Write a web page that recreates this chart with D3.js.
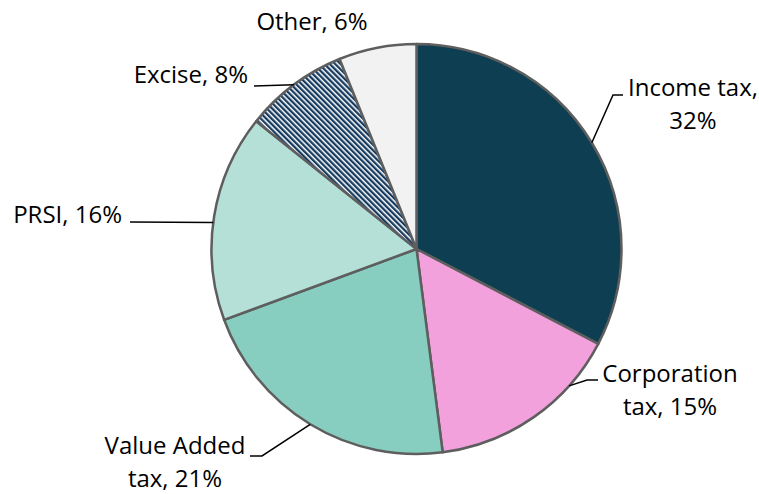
<!DOCTYPE html>
<html>
<head>
<meta charset="utf-8">
<script src="https://cdn.jsdelivr.net/npm/d3@7/dist/d3.min.js"></script>
<style>
  html, body { margin: 0; padding: 0; background: #ffffff; }
  svg { display: block; }
  text { font-family: "Open Sans", "Noto Sans", sans-serif; fill: #000; }
</style>
</head>
<body>
<svg id="chart" width="759" height="494"></svg>
<script>
// Tax revenue shares (%)
const categories = ["Income tax", "Corporation tax", "Value Added tax", "PRSI", "Excise", "Other"];
const shares = [32, 15, 21, 16, 8, 6];
const labelLines = [
  ["Income tax,", "32%"],
  ["Corporation", "tax, 15%"],
  ["Value Added", "tax, 21%"],
  ["PRSI, 16%"],
  ["Excise, 8%"],
  ["Other, 6%"]
];

const fills = ["#0e3e51", "#f2a1dd", "#87cec0", "#b4e0d7", "url(#excise-stripes)", "#f2f2f2"];

// Label placement: text anchor point, alignment, leader elbow, and
// where on the slice (fraction of its angular span) the leader meets the rim.
const labelLayout = [
  { x: 693, y: 96,  align: "middle", elbow: [[613, 95], [623, 95]], at: 0.5 },
  { x: 670, y: 382, align: "middle", elbow: [[587, 380], [598, 380]], at: 0.26 },
  { x: 175, y: 454, align: "middle", elbow: [[262, 456], [250, 456]], at: 0.5 },
  { x: 122, y: 223, align: "end",    elbow: [[130, 222]], at: 0.47 },
  { x: 248, y: 83,  align: "end",    elbow: [[254, 86]], at: 0.5 },
  { x: 312, y: 30,  align: "middle", elbow: null, at: 0.5 }
];
const lineHeight = 33;

const svg = d3.select("#chart");
const cx = 416.5, cy = 249, r = 205;

// Fine diagonal stripe pattern for the Excise slice
const defs = svg.append("defs");
const pat = defs.append("pattern")
  .attr("id", "excise-stripes")
  .attr("patternUnits", "userSpaceOnUse")
  .attr("width", 3.8).attr("height", 3.8)
  .attr("patternTransform", "rotate(-45)");
pat.append("rect").attr("width", 3.8).attr("height", 3.8).attr("fill", "#ffffff");
pat.append("rect").attr("width", 2.3).attr("height", 3.8).attr("fill", "#163a5e");

const pie = d3.pie().sort(null).value(d => d).startAngle(0).endAngle(2 * Math.PI);
const arcs = pie(shares);
const arc = d3.arc().innerRadius(0).outerRadius(r);

const g = svg.append("g").attr("transform", `translate(${cx},${cy})`);

g.selectAll("path.slice")
  .data(arcs)
  .join("path")
  .attr("class", "slice")
  .attr("d", arc)
  .attr("fill", (d, i) => fills[i])
  .attr("stroke", "#5e5e5e")
  .attr("stroke-width", 2.5)
  .attr("stroke-linejoin", "round");

// Leader lines
arcs.forEach((d, i) => {
  const L = labelLayout[i];
  if (!L.elbow) return;
  const a = d.startAngle + (d.endAngle - d.startAngle) * L.at;
  const rim = [cx + r * Math.sin(a), cy - r * Math.cos(a)];
  const pts = [rim].concat(L.elbow);
  svg.append("path")
    .attr("d", d3.line()(pts))
    .attr("fill", "none")
    .attr("stroke", "#000")
    .attr("stroke-width", 1.5);
});

// Labels
labelLayout.forEach((L, i) => {
  const t = svg.append("text")
    .attr("text-anchor", L.align)
    .attr("font-size", 24);
  labelLines[i].forEach((s, k) => {
    t.append("tspan").attr("x", L.x).attr("y", L.y + k * lineHeight).text(s);
  });
});
</script>
</body>
</html>
